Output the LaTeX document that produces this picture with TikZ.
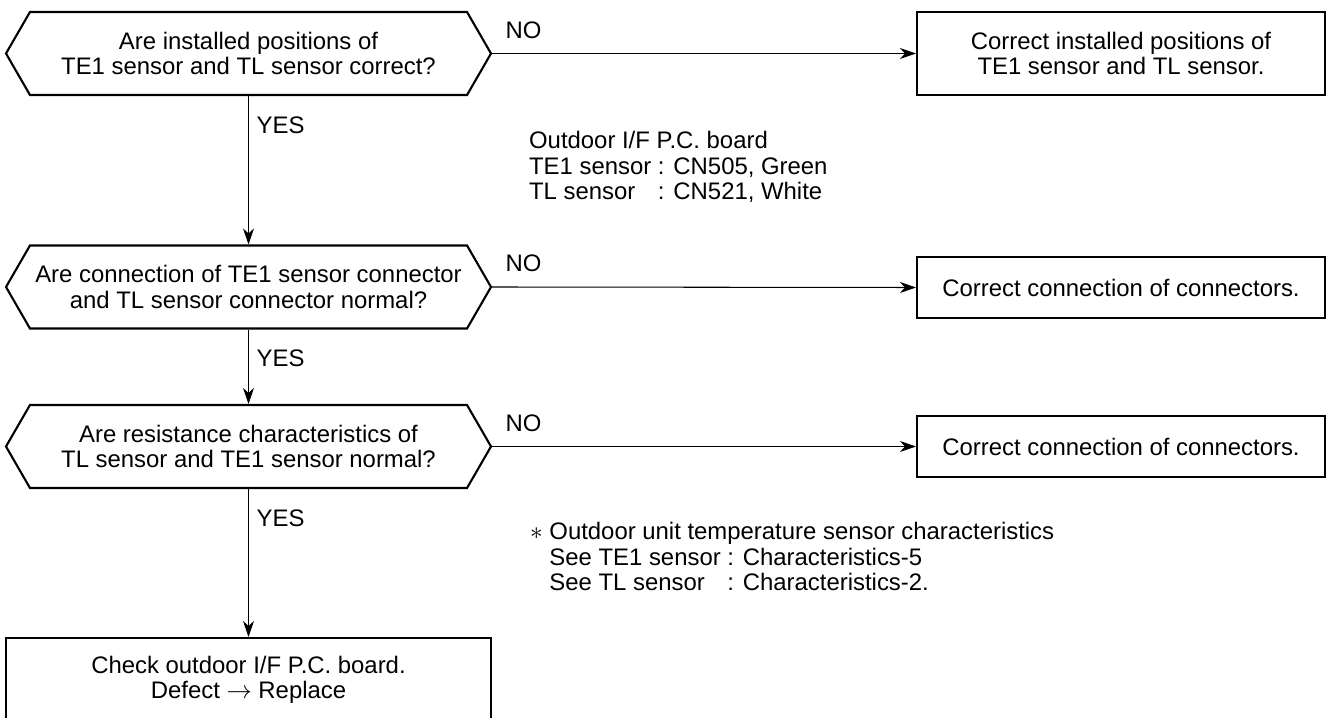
\documentclass[tikz,border=0pt]{standalone}
\usepackage{fontspec}
\setmainfont{Liberation Sans}
\usetikzlibrary{arrows.meta,positioning,shapes.symbols}

\begin{document}
\begin{tikzpicture}[
    every node/.style={font=\fontsize{13.6}{14.4}\selectfont},
    ask/.style={draw, line width=1.2pt, signal, signal to=west and east,
                signal pointer angle=120, minimum width=9.7cm,
                minimum height=1.66cm, align=center, inner sep=2pt},
    fixbox/.style={draw, line width=1.2pt, minimum width=8.16cm,
                   minimum height=1.22cm, align=center},
    arr/.style={-{Stealth[length=3.2mm, width=2.2mm, inset=1mm]}, line width=0.6pt},
    note/.style={align=left, anchor=west, inner sep=3pt}
]
\useasboundingbox (0,0) rectangle (26.54,-14.36);

% ── Questions ─────────────────────────────────────────────────────────────
\node[ask] (qpos) at (4.97,-1.07)
      {Are installed positions of\\TE1 sensor and TL sensor correct?};
\node[ask] (qconn) at (4.97,-5.74)
      {Are connection of TE1 sensor connector\\and TL sensor connector normal?};
\node[ask] (qres) at (4.97,-8.93)
      {Are resistance characteristics of\\TL sensor and TE1 sensor normal?};

% ── Remedies ──────────────────────────────────────────────────────────────
\node[fixbox, minimum height=1.66cm] (fixpos) at (22.42,-1.07)
      {Correct installed positions of\\TE1 sensor and TL sensor.};
\node[fixbox] (fixconn) at (22.42,-5.75) {Correct connection of connectors.};
\node[fixbox] (fixres) at (22.42,-8.93) {Correct connection of connectors.};
\node[fixbox, minimum width=9.7cm, minimum height=1.68cm] (check) at (4.97,-13.6)
      {Check outdoor I/F P.C. board.\\Defect $\rightarrow$ Replace};

% ── Notes ─────────────────────────────────────────────────────────────────
\node[note] (board) at (10.47,-3.38)
      {\begin{tabular}{@{}l@{}l@{}}
       \multicolumn{2}{@{}l@{}}{Outdoor I/F P.C. board}\\
       TE1 sensor & ~: CN505, Green\\
       TL sensor & ~: CN521, White
       \end{tabular}};
\node[note] (chars) at (10.49,-11.2)
      {\begin{tabular}{@{}l@{}l@{}}
       \multicolumn{2}{@{}l@{}}{$\ast$ Outdoor unit temperature sensor characteristics}\\
       \hphantom{$\ast$ }See TE1 sensor & ~: Characteristics-5\\
       \hphantom{$\ast$ }See TL sensor & ~: Characteristics-2.
       \end{tabular}};

% ── NO branches ───────────────────────────────────────────────────────────
\draw[arr] (qpos.east) -- node[pos=0, anchor=south west, xshift=4pt, yshift=5pt]{NO} (fixpos.west);
\draw[arr] (qconn.east) -- node[pos=0, anchor=south west, xshift=4pt, yshift=5pt]{NO} (fixconn.west);
\draw[arr] (qres.east) -- node[pos=0, anchor=south west, xshift=4pt, yshift=5pt]{NO} (fixres.west);

% ── YES branches ──────────────────────────────────────────────────────────
\draw[arr] (qpos.south) -- node[pos=0, anchor=north west, xshift=1pt, yshift=-8pt]{YES} (qconn.north);
\draw[arr] (qconn.south) -- node[pos=0, anchor=north west, xshift=1pt, yshift=-8pt]{YES} (qres.north);
\draw[arr] (qres.south) -- node[pos=0, anchor=north west, xshift=1pt, yshift=-8pt]{YES} (check.north);

\end{tikzpicture}
\end{document}
